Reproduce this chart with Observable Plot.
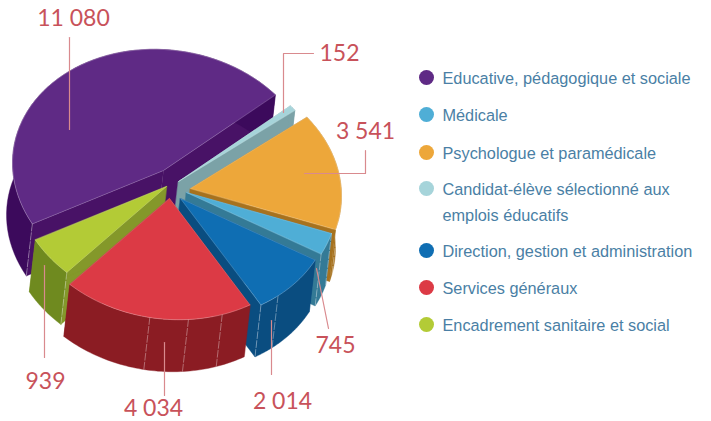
<!DOCTYPE html>
<html lang="fr">
<head>
<meta charset="utf-8">
<script src="https://cdn.jsdelivr.net/npm/d3@7"></script>
<script src="https://cdn.jsdelivr.net/npm/@observablehq/plot@0.6"></script>
<style>
html,body{margin:0;padding:0;background:#fff;overflow:hidden}
svg{display:block}
</style>
</head>
<body>
<div id="chart"></div>
<script>
// Data
const categories = ["Candidat-élève sélectionné aux emplois éducatifs","Psychologue et paramédicale","Médicale","Direction, gestion et administration","Services généraux","Encadrement sanitaire et social","Educative, pédagogique et sociale"];
const values = [152, 3541, 745, 2014, 4034, 939, 11080];
const valueLabels = ["152","3 541","745","2 014","4 034","939","11 080"];
const topColors = ["#a6d4da","#eda73a","#4faed6","#0f6eb3","#dc3a45","#b3cb36","#5f2a85"];
const radialWallColors = ["#7ba2a7","#a6721f","#347a96","#0a4d80","#8b1c23","#84982a","#481266"];
const rimWallColors = ["#7ba2a7","#a6721f","#347a96","#0a4d80","#8b1c23","#6f8a1f","#3c0a5c"];

// The source's 3D drawing is not strictly proportional: each sweep is the value's share
// multiplied by the distortion seen in the picture.
const sweepDistortion = [1.07, 0.985, 0.898, 0.959, 1.139, 1.265, 0.945];
// How far each slice is pulled out of the pie, in chart units
const sliceApex = [[178,181],[190,188],[186,192],[180,198],[169,198],[166,186],[163,170]];

// Projection of the tilted, sheared disc
const disc = {a: 151, b: 121, shear: 0.05, startAngle: 42.2, depthX: -6, depthY: 52};

// Annotation layout, in chart coordinates
const leaderPaths = [
  [[313,53],[283,53],[283,112]],
  [[304,173],[365,173],[365,150]],
  [[316,268],[328,328]],
  [[271,320],[271,374]],
  [[164,342],[164,395]],
  [[44,265],[44,357]],
  [[69,37],[69,129]]
];
const labelAnchors = [[73,18],[339,53],[365,131],[335,345],[282,401],[153,408.5],[45,381]];
const labelOrder = [6,0,1,2,3,4,5];
const legendOrder = [6,2,1,0,3,4,5];
const legendRows = [77,114,152,188,250,287,324];
const legendLines = [["Educative, pédagogique et sociale"],["Médicale"],["Psychologue et paramédicale"],["Candidat-élève sélectionné aux","emplois éducatifs"],["Direction, gestion et administration"],["Services généraux"],["Encadrement sanitaire et social"]];

// Facet lines on the outer walls (fraction of each slice's sweep)
const facetFractions = [[],[0.93],[0,1],[0.74,1],[0.16,0.34,0.54],[0],[0]];

const total = d3.sum(values);
const rawSweeps = values.map((v,i) => v/total*360*sweepDistortion[i]);
const rawSum = d3.sum(rawSweeps);
const sweeps = rawSweeps.map(s => s*360/rawSum);
let cursor = disc.startAngle;
const slices = values.map((v,i) => {
  const from = cursor, to = cursor - sweeps[i];
  cursor = to;
  return {i, from, to, ox: sliceApex[i][0], oy: sliceApex[i][1]};
});
const rimPoint = (s,deg) => {
  const c = Math.cos(deg*Math.PI/180), n = Math.sin(deg*Math.PI/180);
  return {x: s.ox + disc.a*c, y: s.oy - disc.b*n + disc.shear*disc.a*c};
};
const down = p => ({x: p.x + disc.depthX, y: p.y + disc.depthY});
const arc = s => d3.range(0,61).map(k => rimPoint(s, s.from + (s.to-s.from)*k/60));
const poly = (data,fill) => Plot.line(data,{x:"x",y:"y",fill,stroke:fill,strokeWidth:0.4,curve:"linear-closed"});
const edge = (data,stroke,op=0.55,w=0.7,dash=null) => Plot.line(data,{x:"x",y:"y",stroke,strokeWidth:w,strokeOpacity:op,strokeDasharray:dash,curve:"linear"});

// painter's order, back to front
const paintOrder = [6,0,1,2,3,5,4];
const sliceMarks = paintOrder.flatMap(i => {
  const s = slices[i], rim = arc(s), apex = {x:s.ox,y:s.oy};
  const a0 = rim[0], a1 = rim[rim.length-1];
  const facets = facetFractions[i].map(f => {
    const p = rimPoint(s, s.from + (s.to-s.from)*f);
    return edge([p,down(p)],"#ffffff",0.5,0.7,"7 2");
  });
  return [
    poly([apex,a0,down(a0),down(apex)], radialWallColors[i]),
    poly([apex,a1,down(a1),down(apex)], radialWallColors[i]),
    poly([...rim,...rim.map(down).reverse()], rimWallColors[i]),
    ...facets,
    poly([apex,...rim], topColors[i]),
    edge([a1,apex,a0],"#ffffff",0.3,0.6),
    edge(rim,"#ffffff",0.35,0.7)
  ];
});

const leaderMarks = leaderPaths.map(p => Plot.line(p,{x:d=>d[0],y:d=>d[1],stroke:"#d98a8e",strokeWidth:1.2,curve:"linear"}));

const valueText = labelOrder.map((k,r) => ({t:valueLabels[k],x:labelAnchors[r][0],y:labelAnchors[r][1]}));
const legendDots = legendOrder.map((k,r) => ({x:426,y:legendRows[r],fill:topColors[k]}));
const legendText = legendLines.flatMap((ls,r) => ls.map((t,j) => ({t,x:442,y:legendRows[r]+1+j*26})));

const chart = Plot.plot({
  width:711, height:421,
  margin:0, marginTop:0, marginRight:0, marginBottom:0, marginLeft:0,
  x:{domain:[0,711],range:[0,711],axis:null},
  y:{domain:[0,421],range:[0,421],axis:null},
  style:{background:"#fff"},
  marks:[
    ...sliceMarks,
    ...leaderMarks,
    Plot.text(valueText,{x:"x",y:"y",text:"t",fill:"#c8525a",fontSize:23,fontFamily:"Lato",textAnchor:"middle"}),
    Plot.dot(legendDots,{x:"x",y:"y",r:7.5,fill:"fill",stroke:null}),
    Plot.text(legendText,{x:"x",y:"y",text:"t",fill:"#4a7fa5",fontSize:16.3,fontFamily:"Liberation Sans",textAnchor:"start"})
  ]
});
document.getElementById("chart").append(chart);
</script>
</body>
</html>
